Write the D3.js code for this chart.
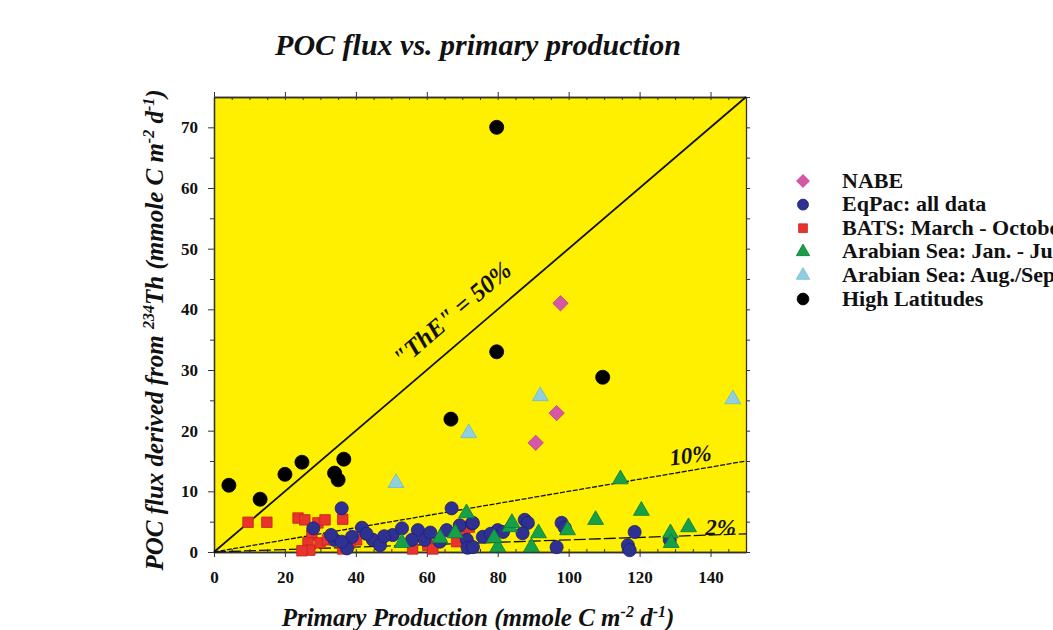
<!DOCTYPE html>
<html><head><meta charset="utf-8">
<script src="https://cdn.jsdelivr.net/npm/d3@7"></script>
<style>
html,body{margin:0;padding:0;background:#fff;}
svg{display:block;}
text{font-family:"Liberation Serif","DejaVu Serif",serif;font-weight:bold;}
</style></head>
<body>
<svg id="chart" width="1053" height="630"></svg>
<script>
// ---- data ----
const seriesNames = ["NABE","EqPac: all data","BATS: March - October","Arabian Sea: Jan. - July","Arabian Sea: Aug./Sept.","High Latitudes"];
const nabe = [[97.7,41],[96.6,22.9],[90.7,18.0]];
const eqpac = [[36,7.2],[67,7.2],[28,3.9],[41.7,4],[38.9,2.5],[44.8,2.0],[46.8,1.1],[50.4,2.8],[53,3.9],[57.5,3.6],[55.8,2.0],[59.4,2.0],[65.6,3.6],[63.7,1.7],[69.3,4.4],[72.7,4.7],[71.3,2.0],[37.5,0.6],[71.5,0.7],[73,4.8],[75.8,2.5],[80,3.6],[81.5,3.3],[87.6,5.3],[88.5,4.8],[87,3.1],[98,4.8],[98.9,4.0],[96.6,0.8],[73,0.8],[118.6,3.3],[116.7,1.1],[117.2,0.3],[128.5,2.0],[34,2.0],[36,1.7],[33,2.8],[43,3.0],[48,2.6],[61,3.2],[78,3.0]];
const bats = [[9.6,4.9],[14.9,4.9],[23.7,5.6],[25.6,5.3],[29.3,4.8],[31.3,5.3],[36.3,5.4],[27.6,2.8],[26.5,1.5],[27,0.3],[29.9,1.5],[32,2.0],[40.2,2.0],[38.3,1.5],[60.3,1.1],[68.4,1.7],[70.7,3.1],[72,4.1],[36.3,0.5],[56,0.5],[61.7,0.5],[24.8,0.2]];
const arabJanJul = [[114.6,12.0],[120.5,6.8],[107.6,5.3],[133.8,4.1],[128.7,3.1],[83.4,4.1],[91.5,3.1],[89.5,0.8],[99.7,3.6],[71.2,6.4],[84,4.8],[63.7,2.3],[53,1.5],[80,0.8],[68,3.1],[79,2.3],[128.9,1.5]];
const arabAugSep = [[51.3,11.4],[71.8,19.6],[92,25.7],[146.3,25.2]];
const highLat = [[4.2,11.0],[13,8.7],[20,12.8],[24.8,14.8],[34,13.0],[35,11.9],[36.6,15.3],[79.7,70],[79.7,33],[66.8,21.9],[109.6,28.8]];
const xTicks = [0,20,40,60,80,100,120,140];
const yTicks = [0,10,20,30,40,50,60,70];
const ratioLines = [{r:0.5,label:'"ThE" = 50%'},{r:0.1,label:"10%"},{r:0.02,label:"2%"}];

// ---- layout ----
const svg = d3.select("#chart");
const L=214,R=746,T=97,B=552;
const x = d3.scaleLinear().domain([0,150]).range([L,R]);
const y = d3.scaleLinear().domain([0,75]).range([B,T]);

svg.append("rect").attr("x",L).attr("y",T).attr("width",R-L).attr("height",B-T)
  .attr("fill","#fff000");

const tickFont = g=>g.selectAll("text").attr("font-size",17).attr("font-family","Liberation Serif").attr("font-weight","bold").attr("fill","#111");
const axisStyle = g=>{g.select(".domain").attr("stroke","#333").attr("stroke-width",1.3);g.selectAll("line").attr("stroke","#333");};

svg.append("g").attr("transform",`translate(0,${B})`)
  .call(d3.axisBottom(x).tickValues(xTicks).tickSize(5).tickPadding(14).tickSizeOuter(0))
  .call(tickFont).call(axisStyle);
svg.append("g").attr("transform",`translate(0,${B})`)
  .call(d3.axisTop(x).tickValues(d3.range(0,151,5)).tickSize(3).tickFormat("").tickSizeOuter(0))
  .call(axisStyle);
svg.append("g").attr("transform",`translate(0,${T})`)
  .call(d3.axisBottom(x).tickValues(d3.range(0,151,5)).tickSize(3).tickFormat("").tickSizeOuter(0))
  .call(axisStyle);
svg.append("g").attr("transform",`translate(0,${T})`)
  .call(d3.axisTop(x).tickValues(xTicks).tickSize(5).tickFormat("").tickSizeOuter(0))
  .call(axisStyle);

svg.append("g").attr("transform",`translate(${L},0)`)
  .call(d3.axisLeft(y).tickValues(yTicks).tickSize(6).tickPadding(10).tickSizeOuter(0))
  .call(tickFont).call(axisStyle);
svg.append("g").attr("transform",`translate(${L},0)`)
  .call(d3.axisLeft(y).tickValues(d3.range(5,75,10)).tickSize(4).tickFormat("").tickSizeOuter(0))
  .call(axisStyle);
svg.append("g").attr("transform",`translate(${R},0)`)
  .call(d3.axisRight(y).tickValues(d3.range(0,76,5)).tickSize(4).tickFormat("").tickSizeOuter(0))
  .call(axisStyle);

// ratio lines
const lineGen = d3.line().x(d=>x(d[0])).y(d=>y(d[1]));
ratioLines.forEach((l,i)=>{
  svg.append("path").datum([[0,0],[150,150*l.r]]).attr("d",lineGen)
    .attr("fill","none").attr("stroke","#111")
    .attr("stroke-width",i===0?1.8:1.3)
    .attr("stroke-dasharray",i===0?null:(i===1?"5,1.5":"12,3"));
});

// markers
const sym = (type,size)=>d3.symbol().type(type).size(size)();
function drawSeries(data,type,size,fill,stroke){
  svg.append("g").selectAll("path").data(data).join("path")
    .attr("transform",d=>`translate(${x(d[0])},${y(d[1])})`)
    .attr("d",sym(type,size)).attr("fill",fill).attr("stroke",stroke).attr("stroke-width",0.8);
}
const styles = [
  {data:nabe,type:d3.symbolDiamond2,size:150,fill:"#d656a8",stroke:"#b94090"},
  {data:eqpac,type:d3.symbolCircle,size:135,fill:"#2e3192",stroke:"#1d1f70"},
  {data:bats,type:d3.symbolSquare,size:110,fill:"#e8342c",stroke:"#c42520"},
  {data:arabJanJul,type:d3.symbolTriangle,size:110,fill:"#17a04a",stroke:"#0f7a36"},
  {data:arabAugSep,type:d3.symbolTriangle,size:110,fill:"#8fd0e0",stroke:"#70b8cc"},
  {data:highLat,type:d3.symbolCircle,size:155,fill:"#000",stroke:"#000"}
];
[2,1,3,4,0,5].forEach(i=>{const s=styles[i];drawSeries(s.data,s.type,s.size,s.fill,s.stroke);});

// line labels
const ang50 = Math.atan2(y(75)-y(0), x(150)-x(0))*180/Math.PI;
svg.append("text").attr("transform",`translate(${x(68.7)},${y(38.2)}) rotate(${ang50})`)
  .attr("text-anchor","middle").attr("font-size",25).attr("font-style","italic").attr("fill","#111")
  .text(ratioLines[0].label);
svg.append("text").attr("transform",`translate(${x(134.6)},${y(14.7)}) rotate(-7)`)
  .attr("text-anchor","middle").attr("font-size",23).attr("font-style","italic").attr("fill","#111")
  .text(ratioLines[1].label);
svg.append("text").attr("x",x(142.8)).attr("y",y(2.8))
  .attr("text-anchor","middle").attr("font-size",23).attr("font-style","italic").attr("fill","#111")
  .text(ratioLines[2].label);

// title
svg.append("text").attr("x",478).attr("y",55).attr("text-anchor","middle")
  .attr("font-size",30).attr("font-style","italic").attr("fill","#111")
  .text("POC flux vs. primary production");

// x label
const xl = svg.append("text").attr("x",478).attr("y",626).attr("text-anchor","middle")
  .attr("font-size",25).attr("font-style","italic").attr("fill","#111");
xl.append("tspan").text("Primary Production (mmole C m");
xl.append("tspan").attr("dy",-9).attr("font-size",16).text("-2");
xl.append("tspan").attr("dy",9).text(" d");
xl.append("tspan").attr("dy",-9).attr("font-size",16).text("-1");
xl.append("tspan").attr("dy",9).text(")");

// y label
const yl = svg.append("text").attr("transform",`translate(163,330) rotate(-90)`).attr("text-anchor","middle")
  .attr("font-size",25).attr("font-style","italic").attr("fill","#111");
yl.append("tspan").text("POC flux derived from ");
yl.append("tspan").attr("dy",-9).attr("font-size",16).text("234");
yl.append("tspan").attr("dy",9).text("Th (mmole C m");
yl.append("tspan").attr("dy",-9).attr("font-size",16).text("-2");
yl.append("tspan").attr("dy",9).text(" d");
yl.append("tspan").attr("dy",-9).attr("font-size",16).text("-1");
yl.append("tspan").attr("dy",9).text(")");

// legend
const lg = svg.append("g");
seriesNames.forEach((name,i)=>{
  const s = styles[i];
  const cy = 181 + i*23.6;
  lg.append("path").attr("transform",`translate(803,${cy})`)
    .attr("d",sym(s.type,s.size*0.7)).attr("fill",s.fill).attr("stroke",s.stroke).attr("stroke-width",0.8);
  lg.append("text").attr("x",842).attr("y",cy+6.5).attr("font-size",22).attr("fill","#111").text(name);
});
</script>
</body></html>
